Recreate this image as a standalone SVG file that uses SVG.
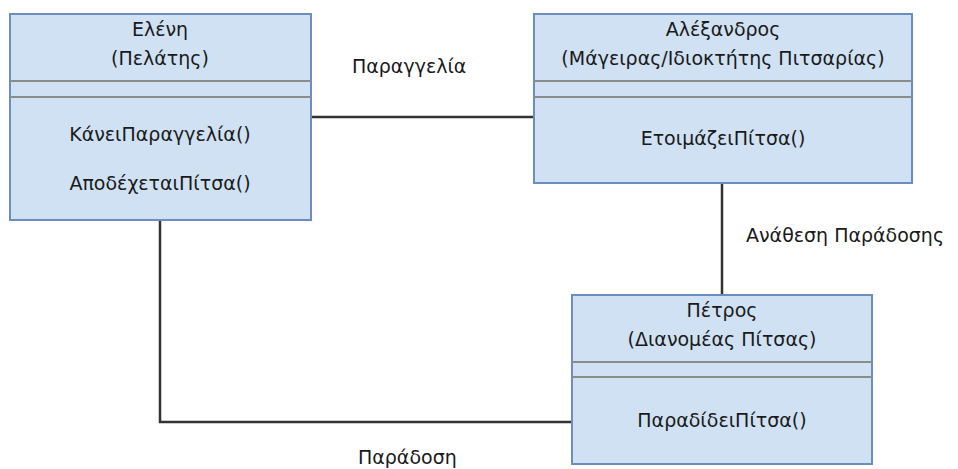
<svg xmlns="http://www.w3.org/2000/svg" width="958" height="469" viewBox="0 0 958 469">
<style>
.box{fill:#cfe1f3;stroke:#6c8ebf;stroke-width:2}
.div{stroke:#8c8c8c;stroke-width:2}
.t{font-family:"DejaVu Sans",sans-serif;font-size:19px;fill:#1a1a1a;text-anchor:middle}
.l{font-family:"DejaVu Sans",sans-serif;font-size:19px;fill:#1a1a1a}
.c{fill:none;stroke:#333;stroke-width:2.5}
</style>
<rect width="958" height="469" fill="#fff"/>
<g id="connectors">
<line class="c" x1="311" y1="117" x2="534" y2="117"/>
<line class="c" x1="722" y1="183" x2="722" y2="295"/>
<polyline class="c" points="160,220 160,422 572,422"/>
<text class="l" x="352" y="73">Παραγγελία</text>
<text class="l" x="746" y="242">Ανάθεση Παράδοσης</text>
<text class="l" x="358" y="464">Παράδοση</text>
</g>
<g id="eleni">
<rect class="box" x="10" y="14" width="301" height="206"/>
<line class="div" x1="10" y1="81" x2="311" y2="81"/>
<line class="div" x1="10" y1="97" x2="311" y2="97"/>
<text class="t" x="160" y="36">Ελένη</text>
<text class="t" x="160" y="65">(Πελάτης)</text>
<text class="t" x="160" y="141">ΚάνειΠαραγγελία()</text>
<text class="t" x="160" y="190">ΑποδέχεταιΠίτσα()</text>
</g>
<g id="alexandros">
<rect class="box" x="534" y="14" width="378" height="169"/>
<line class="div" x1="534" y1="81" x2="912" y2="81"/>
<line class="div" x1="534" y1="97" x2="912" y2="97"/>
<text class="t" x="723" y="36">Αλέξανδρος</text>
<text class="t" x="723" y="65">(Μάγειρας/Ιδιοκτήτης Πιτσαρίας)</text>
<text class="t" x="723" y="145">ΕτοιμάζειΠίτσα()</text>
</g>
<g id="petros">
<rect class="box" x="572" y="295" width="300" height="169"/>
<line class="div" x1="572" y1="362" x2="872" y2="362"/>
<line class="div" x1="572" y1="377" x2="872" y2="377"/>
<text class="t" x="722" y="317">Πέτρος</text>
<text class="t" x="722" y="346">(Διανομέας Πίτσας)</text>
<text class="t" x="722" y="427">ΠαραδίδειΠίτσα()</text>
</g>
</svg>
